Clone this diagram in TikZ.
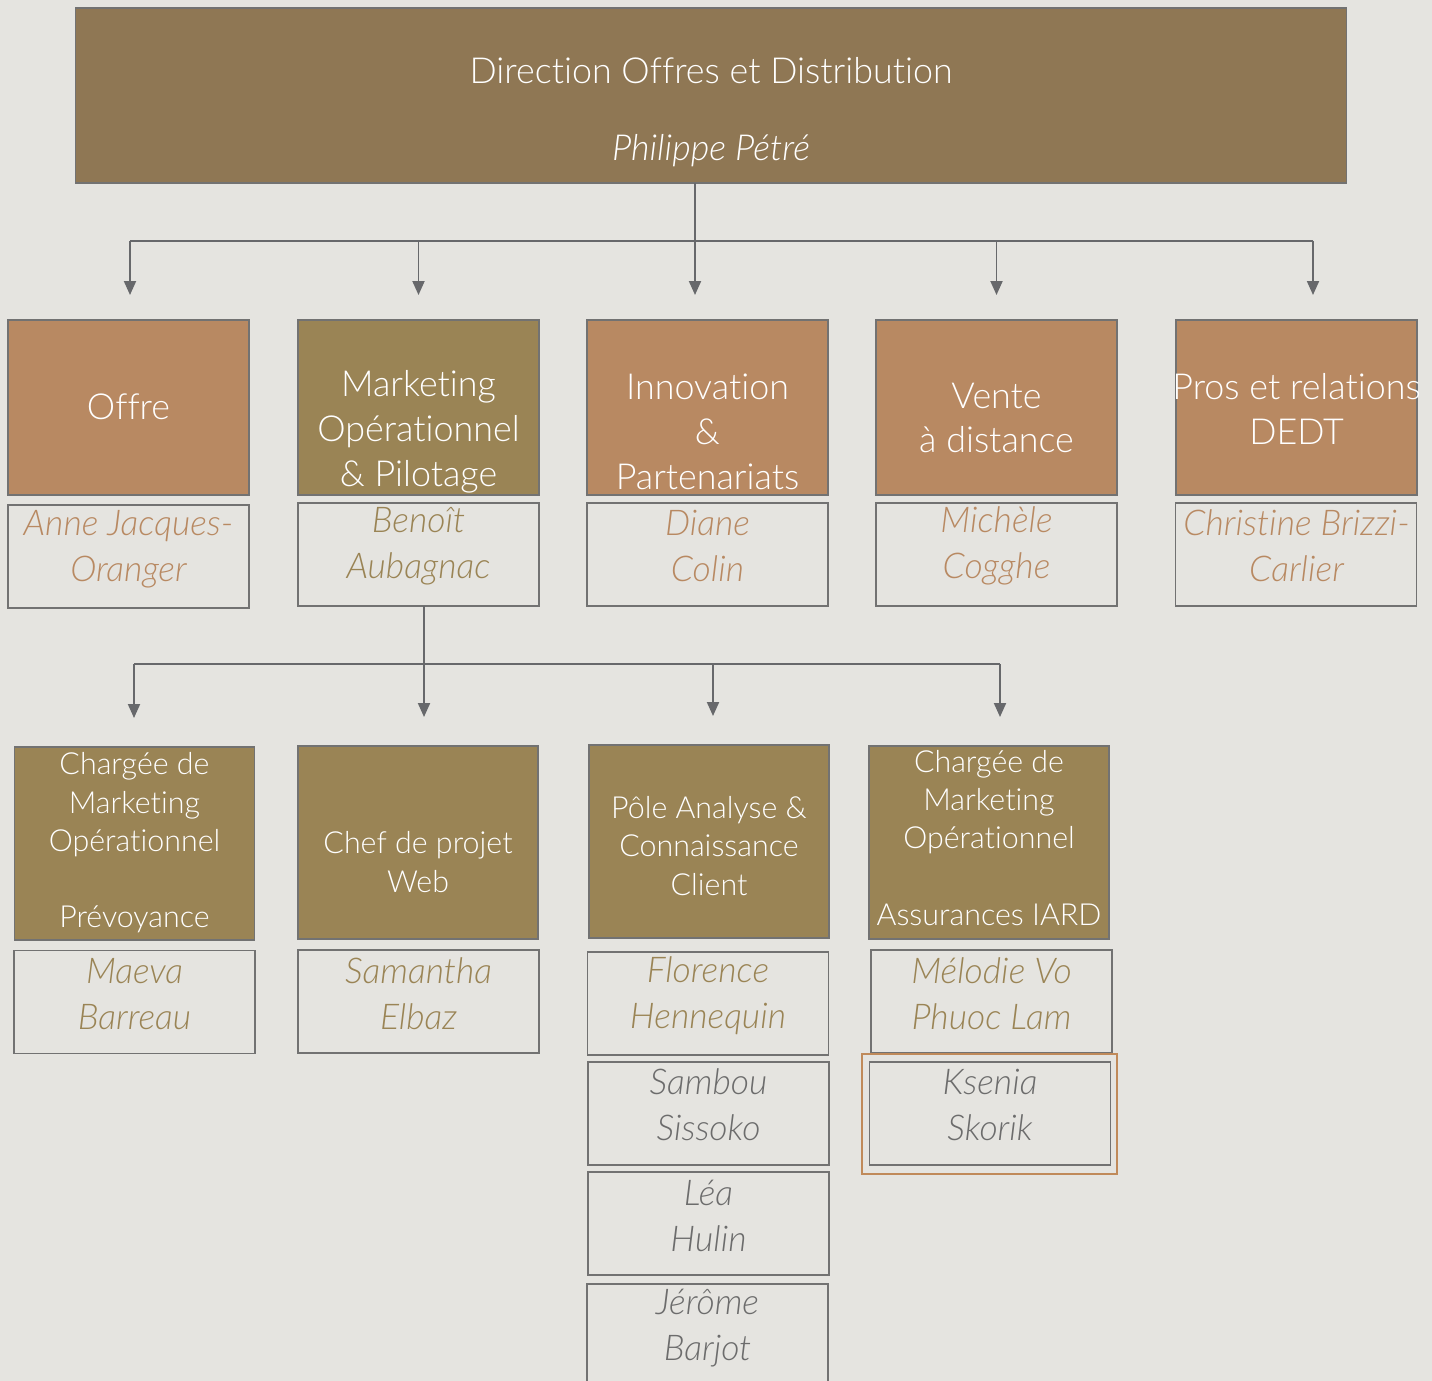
\documentclass[tikz,border=0pt]{standalone}
\usepackage{fontspec}
\setmainfont{Lato}[UprightFont=* Light, ItalicFont=* Light Italic, RawFeature={-liga}]
\usetikzlibrary{arrows.meta}

\definecolor{paper}{HTML}{E5E4E0}
\definecolor{boxline}{HTML}{727272}
\definecolor{linkgray}{HTML}{67686B}
\definecolor{topfill}{HTML}{8F7754}
\definecolor{tanfill}{HTML}{B88962}
\definecolor{olivefill}{HTML}{9A8455}
\definecolor{greyname}{HTML}{6C6C6C}
\definecolor{frameorange}{HTML}{C08A5A}

\newcommand{\hdfont}{\fontsize{20.4}{25.5}\selectfont}
\newcommand{\subfont}{\fontsize{17.3}{21.8}\selectfont}
\newcommand{\namefont}{\itshape\fontsize{20.2}{26}\selectfont}

\begin{document}
\begin{tikzpicture}[x=0.02cm, y=-0.02cm,
  box/.style={draw=boxline, line width=0.65pt, inner sep=0pt, outer sep=0pt},
  head/.style={box, fill=tanfill, minimum width=4.82cm, minimum height=3.5cm},
  olivehead/.style={head, fill=olivefill},
  sub/.style={box, fill=olivefill, minimum width=4.8cm, minimum height=3.86cm},
  namebox/.style={box, minimum width=4.82cm, minimum height=2.06cm},
  hdtxt/.style={align=center, inner sep=0pt, text=white, font=\hdfont},
  subtxt/.style={align=center, inner sep=0pt, text=white, font=\subfont},
  nametxt/.style={align=center, inner sep=0pt, font=\namefont},
  conn/.style={draw=linkgray, line width=1.1pt},
  arr/.style={conn, -{Triangle[width=0.24cm,length=0.28cm]}, shorten >=0.5cm}]

\fill[paper] (0,0) rectangle (1432,1381);
\clip (0,0) rectangle (1432,1381);

% direction
\node[box, fill=topfill, minimum width=25.44cm, minimum height=3.5cm] (dir) at (711,95.5) {};
\node[hdtxt] (dirT) at (711,112) {Direction Offres et Distribution\\[18pt]\textit{Philippe Pétré}};

% first level
\node[head] (offre) at (128.5,407.5) {};
\node[olivehead] (mkt) at (418.5,407.5) {};
\node[head] (innov) at (707.5,407.5) {};
\node[head] (vente) at (996.5,407.5) {};
\node[head] (pros) at (1296.5,407.5) {};

\node[hdtxt] (offreT) at (128.5,407) {Offre};
\node[hdtxt] (mktT) at (418.5,432) {Marketing\\Opérationnel\\\& Pilotage};
\node[hdtxt] (innovT) at (707.5,432) {Innovation\\\&\\Partenariats};
\node[hdtxt] (venteT) at (996.5,418) {Vente\\à distance};
\node[hdtxt] (prosT) at (1296.5,409) {Pros et relations\\DEDT};

\node[namebox] (anne) at (128.5,556.5) {};
\node[namebox] (benoit) at (418.5,554.5) {};
\node[namebox] (diane) at (707.5,554.5) {};
\node[namebox] (michele) at (996.5,554.5) {};
\node[namebox] (christine) at (1296,554.5) {};

\node[nametxt, text=tanfill] (anneT) at (128.5,549) {Anne Jacques-\\Oranger};
\node[nametxt, text=olivefill] (benoitT) at (418.5,546) {Benoît\\Aubagnac};
\node[nametxt, text=tanfill] (dianeT) at (707.5,546) {Diane\\Colin};
\node[nametxt, text=tanfill] (micheleT) at (996.5,546) {Michèle\\Cogghe};
\node[nametxt, text=tanfill] (christineT) at (1296.5,546) {Christine Brizzi-\\Carlier};

% second level
\node[sub] (prev) at (134.5,843.5) {};
\node[sub] (chef) at (418,842.5) {};
\node[sub] (pole) at (709,841.5) {};
\node[sub] (iard) at (989,842.5) {};

\node[subtxt] (prevT) at (134.5,843) {Chargée de\\Marketing\\Opérationnel\\[21.8pt]Prévoyance};
\node[subtxt] (chefT) at (418,862) {Chef de projet\\Web};
\node[subtxt] (poleT) at (709,846) {Pôle Analyse \&\\Connaissance\\Client};
\node[subtxt] (iardT) at (989,838) {Chargée de\\Marketing\\Opérationnel\\[21.8pt]Assurances IARD};

\node[namebox] (maeva) at (134.5,1002) {};
\node[namebox] (samantha) at (418.5,1001.5) {};
\node[namebox] (florence) at (708,1003.5) {};
\node[namebox] (sambou) at (708.5,1113.5) {};
\node[namebox] (lea) at (708.5,1223.5) {};
\node[namebox, minimum height=2.32cm] (jerome) at (707.5,1342) {};
\node[namebox] (melodie) at (991.5,1001.5) {};
\node[box, draw=frameorange, line width=1.6pt, minimum width=5.1cm, minimum height=2.4cm] (kseniaFrame) at (989.5,1114) {};
\node[namebox] (ksenia) at (990,1113.5) {};

\node[nametxt, text=olivefill] (maevaT) at (134.5,994) {Maeva\\Barreau};
\node[nametxt, text=olivefill] (samanthaT) at (418.5,994) {Samantha\\Elbaz};
\node[nametxt, text=olivefill] (florenceT) at (708,995.5) {Florence\\Hennequin};
\node[nametxt, text=greyname] (sambouT) at (708.5,1105) {Sambou\\Sissoko};
\node[nametxt, text=greyname] (leaT) at (708.5,1216) {Léa\\Hulin};
\node[nametxt, text=greyname] (jeromeT) at (707.5,1328) {Jérôme\\Barjot};
\node[nametxt, text=olivefill] (melodieT) at (991.5,994) {Mélodie Vo\\Phuoc Lam};
\node[nametxt, text=greyname] (kseniaT) at (990,1105) {Ksenia\\Skorik};

% links
\coordinate (busA) at (695,241);
\coordinate (barL) at (130,241);
\coordinate (barR) at (1313,241);
\path[conn] (busA |- dir.south) -- (busA);
\path[conn] (barL) -- (barR);
\path[arr] (barL) -- (barL |- offre.north);
\path[arr] (mkt.north |- barL) -- (mkt.north);
\path[arr] (busA) -- (busA |- innov.north);
\path[arr] (vente.north |- barL) -- (vente.north);
\path[arr] (barR) -- (barR |- pros.north);

\coordinate (busB) at (424,664);
\coordinate (barL2) at (134,664);
\coordinate (barR2) at (1000,664);
\path[conn] (busB |- benoit.south) -- (busB);
\path[conn] (barL2) -- (barR2);
\path[arr, shorten >=0.58cm] (barL2) -- (barL2 |- prev.north);
\path[arr, shorten >=0.58cm] (busB) -- (busB |- chef.north);
\path[arr, shorten >=0.58cm] (713,0 |- busB) -- (713,0 |- pole.north);
\path[arr, shorten >=0.58cm] (barR2) -- (barR2 |- iard.north);
\end{tikzpicture}
\end{document}
